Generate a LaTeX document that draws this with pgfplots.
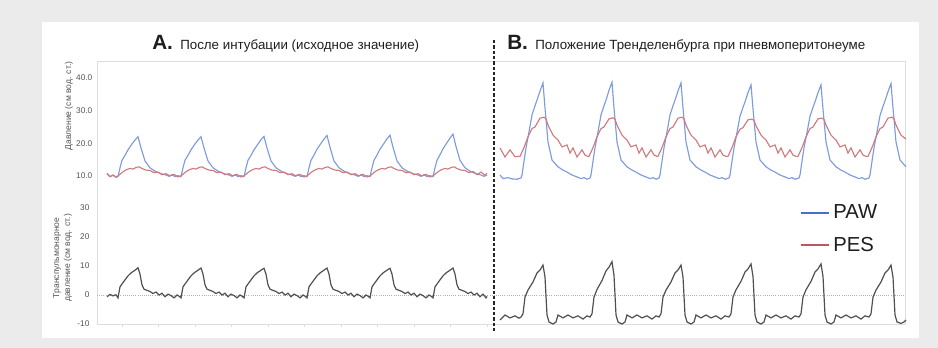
\documentclass[border=0pt]{standalone}
\usepackage{fontspec}
\setmainfont{Liberation Sans}
\usepackage{pgfplots}
\pgfplotsset{compat=1.18}
\definecolor{bgray}{RGB}{235,235,235}
\definecolor{pawc}{RGB}{125,155,222}
\definecolor{pesc}{RGB}{208,122,128}
\definecolor{pawleg}{RGB}{70,110,205}
\definecolor{pesleg}{RGB}{190,85,95}
\definecolor{tpc}{RGB}{80,80,80}
\definecolor{framec}{RGB}{222,222,222}
\definecolor{tickc}{RGB}{85,85,85}
\definecolor{titc}{RGB}{30,30,30}
\begin{document}
\begin{tikzpicture}
\begin{scope}[x=0.75pt,y=0.75pt]
\fill[bgray] (0,0) rectangle (938,348);
\fill[white] (42,10) rectangle (919,326);
\draw[framec, line width=0.6pt] (97,287) rectangle (905,24);
\end{scope}
% ---------------- upper axis ----------------
\begin{axis}[
  at={(72.75pt,118.5pt)}, anchor=south west, scale only axis,
  width=606pt, height=96.75pt,
  xmin=97, xmax=905, ymin=5.71, ymax=45.2,
  axis line style={draw=none}, clip=false,
  xtick=\empty, ytick={10,20,30,40}, major tick length=0pt,
  /pgf/number format/assume math mode=true,
  yticklabel style={font=\fontsize{6.2}{7}\selectfont, text=tickc,
    /pgf/number format/fixed, /pgf/number format/fixed zerofill,
    /pgf/number format/precision=1},
  ylabel={Давление (см вод. ст.)},
  ylabel style={font=\fontsize{6.4}{7.5}\selectfont, text=tickc,
    at={(rel axis cs:-0.0347,0.651)}, anchor=center},
]
\addplot[pawc, line width=0.85pt] coordinates {(107,10.6)(110,9.8)(113,10.2)(116,9.6)
(118,9.8)(120,12.5)(122,14.8)(125,16.3)(128,18.0)(132,19.8)(135,21.0)(138,22.0)(141,18.6)(145,14.6)(150,12.5)(156,11.3)(162,10.6)(166,10.3)(169,9.9)(172,10.4)(175,9.8)(178,10.1)
(181,9.8)(183,12.5)(185,14.8)(188,16.3)(191,18.0)(195,19.8)(198,21.0)(201,22.0)(204,18.6)(208,14.6)(213,12.5)(219,11.3)(225,10.6)(229,10.3)(232,9.9)(235,10.4)(238,9.8)(241,10.1)
(244,9.8)(246,12.5)(248,14.8)(251,16.3)(254,18.0)(258,19.8)(261,21.1)(264,22.1)(267,18.6)(271,14.6)(276,12.5)(282,11.3)(288,10.6)(292,10.3)(295,9.9)(298,10.4)(301,9.8)(304,10.1)
(307,9.8)(309,12.5)(311,14.8)(314,16.4)(317,18.2)(321,20.0)(324,21.3)(327,22.4)(330,18.8)(334,14.6)(339,12.5)(345,11.3)(351,10.6)(355,10.3)(358,9.9)(361,10.4)(364,9.8)(367,10.1)
(370,9.8)(372,12.5)(374,14.8)(377,16.4)(380,18.2)(384,20.0)(387,21.4)(390,22.5)(393,18.8)(397,14.6)(402,12.5)(408,11.3)(414,10.6)(418,10.3)(421,9.9)(424,10.4)(427,9.8)(430,10.1)
(433,9.8)(435,12.5)(437,14.8)(440,16.5)(443,18.3)(447,20.2)(450,21.6)(453,22.8)(456,19.0)(460,14.8)(465,12.5)(471,11.3)(477,10.6)(481,10.3)(484,9.9)(487,10.2)};
\addplot[pesc, line width=0.85pt] coordinates {(107,10.8)(110,9.8)(113,10.3)(116,9.7)
(118,10.0)(121,10.8)(124,11.5)(127,12.0)(130,12.3)(133,12.1)(136,12.6)(139,12.8)(142,12.3)(146,11.8)(150,11.7)(154,11.0)(158,11.2)(162,10.4)(166,10.7)(170,10.0)(174,10.5)(178,9.7)
(181,10.0)(184,10.8)(187,11.5)(190,12.0)(193,12.3)(196,12.1)(199,12.6)(202,12.8)(205,12.3)(209,11.8)(213,11.7)(217,11.0)(221,11.2)(225,10.4)(229,10.7)(233,10.0)(237,10.5)(241,9.7)
(244,10.0)(247,10.8)(250,11.5)(253,12.0)(256,12.3)(259,12.1)(262,12.6)(265,12.8)(268,12.3)(272,11.8)(276,11.7)(280,11.0)(284,11.2)(288,10.4)(292,10.7)(296,10.0)(300,10.5)(304,9.7)
(307,10.0)(310,10.8)(313,11.5)(316,12.0)(319,12.3)(322,12.1)(325,12.6)(328,12.8)(331,12.3)(335,11.8)(339,11.7)(343,11.0)(347,11.2)(351,10.4)(355,10.7)(359,10.0)(363,10.5)(367,9.7)
(370,10.0)(373,10.8)(376,11.5)(379,12.0)(382,12.3)(385,12.1)(388,12.6)(391,12.8)(394,12.3)(398,11.8)(402,11.7)(406,11.0)(410,11.2)(414,10.4)(418,10.7)(422,10.0)(426,10.5)(430,9.7)
(433,10.0)(436,10.8)(439,11.5)(442,12.0)(445,12.3)(448,12.1)(451,12.6)(454,12.8)(457,12.3)(461,11.8)(465,11.7)(469,11.0)(473,11.4)(477,10.4)(481,11.2)(485,10.2)(487,10.8)};
\addplot[pawc, line width=0.85pt] coordinates {(500,10.3)(503,9.2)(508,9.5)(512,9.1)(517,9.0)
(521,9.4)(522,10.3)(524,14.5)(526,18.6)(529,23.5)(532,28.7)(535,31.5)(537,33.2)(540,36.0)(543,38.5)(545,30.8)(548,20.4)(552,14.9)(558,12.8)(563,11.8)(567,11.2)(572,10.3)(577,9.7)(581,9.2)(584,9.5)(587,9.0)
(590,9.4)(591,10.3)(593,14.5)(595,18.6)(598,23.5)(601,28.7)(604,31.5)(606,33.2)(609,36.2)(612,38.7)(614,30.8)(617,20.4)(621,14.9)(627,12.8)(632,11.8)(636,11.2)(641,10.3)(646,9.7)(650,9.2)(653,9.5)(656,9.0)
(659,9.4)(660,10.3)(662,14.5)(664,18.6)(667,23.5)(670,28.7)(673,31.5)(675,33.2)(678,36.0)(681,38.5)(683,30.8)(686,20.4)(690,14.9)(696,12.8)(701,11.8)(705,11.2)(710,10.3)(715,9.7)(719,9.2)(722,9.5)(725,9.0)
(729,9.4)(730,10.3)(732,14.5)(734,18.6)(737,23.3)(740,28.3)(743,31.0)(745,32.7)(748,35.5)(751,37.9)(753,30.5)(756,20.4)(760,14.9)(766,12.8)(771,11.8)(775,11.2)(780,10.3)(785,9.7)(789,9.2)(792,9.5)(795,9.0)
(799,9.4)(800,10.3)(802,14.5)(804,18.6)(807,23.3)(810,28.3)(813,31.0)(815,32.7)(818,35.5)(821,37.9)(823,30.5)(826,20.4)(830,14.9)(836,12.8)(841,11.8)(845,11.2)(850,10.3)(855,9.7)(859,9.2)(862,9.5)(865,9.0)
(869,9.4)(870,10.3)(872,14.5)(874,18.6)(877,23.5)(880,28.5)(883,31.3)(885,33.0)(888,35.8)(891,38.3)(893,30.8)(896,20.4)(900,14.9)(906,12.8)};
\addplot[pesc, line width=0.85pt] coordinates {(500,18.6)(505,15.8)(510,18.0)(515,15.9)
(520,16.0)(523,18.0)(525,19.5)(528,22.0)(532,24.5)(535,25.0)(540,27.7)(544,28.0)(546,27.5)(548,25.6)(553,22.5)(558,21.0)(562,18.9)(567,19.5)(570,17.0)(573,18.6)(577,15.8)(582,18.0)(585,16.4)(588,16.0)
(589,16.0)(592,18.0)(594,19.5)(597,22.0)(601,24.5)(604,25.0)(609,27.5)(613,27.8)(615,27.4)(617,25.6)(622,22.5)(627,21.0)(631,18.9)(636,19.5)(639,17.0)(642,18.6)(646,15.8)(651,18.0)(654,16.4)(657,16.0)
(658,16.0)(661,18.0)(663,19.5)(666,22.0)(670,24.5)(673,25.0)(678,27.7)(682,28.0)(684,27.5)(686,25.6)(691,22.5)(696,21.0)(700,18.9)(705,19.5)(708,17.0)(711,18.6)(715,15.8)(720,18.0)(723,16.4)(726,16.0)
(728,16.0)(731,18.0)(733,19.5)(736,22.0)(740,24.3)(743,24.8)(748,27.2)(752,27.4)(754,27.0)(756,25.4)(761,22.5)(766,21.0)(770,18.9)(775,19.5)(778,17.0)(781,18.6)(785,15.8)(790,18.0)(793,16.4)(796,16.0)
(798,16.0)(801,18.0)(803,19.5)(806,22.0)(810,24.5)(813,25.0)(818,27.5)(822,27.7)(824,27.3)(826,25.6)(831,22.5)(836,21.0)(840,18.9)(845,19.5)(848,17.0)(851,18.6)(855,15.8)(860,18.0)(863,16.4)(866,16.0)
(868,16.0)(871,18.0)(873,19.5)(876,22.0)(880,24.5)(883,25.0)(888,27.7)(892,28.0)(894,27.5)(896,25.6)(901,22.5)(906,21.3)};
\end{axis}
% ---------------- lower axis ----------------
\begin{axis}[
  at={(72.75pt,18pt)}, anchor=south west, scale only axis,
  width=606pt, height=100.5pt,
  xmin=97, xmax=905, ymin=-10, ymax=36.2,
  axis line style={draw=none}, clip=false,
  xtick={122,158.5,195,231.5,268,304.5,341,377.5,414,450.5,487},
  xticklabels={}, tick pos=left, tick align=outside,
  major tick length=2.2pt,
  xtick style={draw=framec, line width=0.6pt},
  ytick={-10,0,10,20,30}, ytick style={draw=none},
  /pgf/number format/assume math mode=true,
  yticklabel style={font=\fontsize{6.2}{7}\selectfont, text=tickc},
  ylabel={Транспульмонарное\\давление (см вод. ст.)},
  ylabel style={font=\fontsize{6.4}{8.2}\selectfont, text=tickc, align=center,
    at={(rel axis cs:-0.0427,0.493)}, anchor=center},
  legend style={draw=none, fill=none, at={(rel axis cs:0.870,0.893)}, anchor=north west,
    font=\fontsize{15.2}{17}\selectfont, inner sep=0pt, row sep=12.6pt, column sep=2.2pt,
    nodes={inner sep=0pt}, text=titc},
  legend image code/.code={\draw[#1] (0pt,0pt) -- (21pt,0pt);},
  legend cell align=left,
]
\addlegendimage{pawleg, line width=1.6pt}
\addlegendentry{PAW}
\addlegendimage{pesleg, line width=1.6pt}
\addlegendentry{PES}
\addplot[gray!60, densely dotted, line width=0.6pt, forget plot] coordinates {(97,0) (905,0)};
\addplot[tpc, line width=0.9pt, forget plot] coordinates {(107,-0.6)(110,0.2)(113,-0.3)(116,0.1)
(118,-1.0)(120,2.8)(122,3.8)(125,5.2)(128,6.6)(131,7.6)(134,8.3)(136,8.8)(138,9.4)(140,7.2)(142,3.5)(144,2.0)(147,1.6)(150,1.2)(153,0.5)(156,1.0)(159,0.0)(162,0.6)(165,-0.6)(168,0.3)(171,-0.2)(174,-1.0)(177,0.0)(179,-0.4)
(181,-1.0)(183,2.8)(185,3.8)(188,5.2)(191,6.6)(194,7.6)(197,8.3)(199,8.8)(201,9.3)(203,7.2)(205,3.5)(207,2.0)(210,1.6)(213,1.2)(216,0.5)(219,1.0)(222,0.0)(225,0.6)(228,-0.6)(231,0.3)(234,-0.2)(237,-1.0)(240,0.0)(242,-0.4)
(244,-1.0)(246,2.8)(248,3.8)(251,5.2)(254,6.6)(257,7.6)(260,8.3)(262,8.8)(264,9.2)(266,7.2)(268,3.5)(270,2.0)(273,1.6)(276,1.2)(279,0.5)(282,1.0)(285,0.0)(288,0.6)(291,-0.6)(294,0.3)(297,-0.2)(300,-1.0)(303,0.0)(305,-0.4)
(307,-1.0)(309,2.8)(311,3.8)(314,5.2)(317,6.6)(320,7.6)(323,8.3)(325,8.8)(327,9.3)(329,7.2)(331,3.5)(333,2.0)(336,1.6)(339,1.2)(342,0.5)(345,1.0)(348,0.0)(351,0.6)(354,-0.6)(357,0.3)(360,-0.2)(363,-1.0)(366,0.0)(368,-0.4)
(370,-1.0)(372,2.8)(374,3.8)(377,5.2)(380,6.6)(383,7.6)(386,8.3)(388,8.8)(390,9.2)(392,7.2)(394,3.5)(396,2.0)(399,1.6)(402,1.2)(405,0.5)(408,1.0)(411,0.0)(414,0.6)(417,-0.6)(420,0.3)(423,-0.2)(426,-1.0)(429,0.0)(431,-0.4)
(433,-1.0)(435,2.8)(437,3.8)(440,5.2)(443,6.6)(446,7.6)(449,8.3)(451,8.8)(453,9.3)(455,7.2)(457,3.5)(459,2.0)(462,1.6)(465,1.2)(468,0.5)(471,1.0)(474,0.0)(477,0.6)(480,-0.6)(483,0.3)(486,-1.0)(487,-0.5)};
\addplot[tpc, line width=0.9pt, forget plot] coordinates {(500,-8.6)(505,-6.9)(510,-7.9)(515,-7.2)(519,-8.0)
(521,-7.6)(523,-6.5)(525,-0.7)(528,1.7)(533,4.5)(537,7.6)(540,8.6)(543,10.3)(545,6.2)(547,-6.9)(549,-9.3)(553,-10.0)(556,-9.3)(558,-6.9)(563,-7.9)(568,-6.9)(573,-7.9)(578,-7.2)(583,-8.3)(587,-7.2)
(590,-7.6)(592,-6.5)(594,-0.7)(597,1.9)(602,5.0)(606,8.3)(609,9.6)(612,11.5)(614,6.8)(616,-6.9)(618,-9.3)(622,-10.0)(625,-9.3)(627,-6.9)(632,-7.9)(637,-6.9)(642,-7.9)(647,-7.2)(652,-8.3)(656,-7.2)
(659,-7.6)(661,-6.5)(663,-0.7)(666,1.7)(671,4.5)(675,7.6)(678,8.6)(681,10.3)(683,6.2)(685,-6.9)(687,-9.3)(691,-10.0)(694,-9.3)(696,-6.9)(701,-7.9)(706,-6.9)(711,-7.9)(716,-7.2)(721,-8.3)(725,-7.2)
(729,-7.6)(731,-6.5)(733,-0.7)(736,1.8)(741,4.7)(745,7.9)(748,9.0)(751,10.7)(753,6.4)(755,-6.9)(757,-9.3)(761,-10.0)(764,-9.3)(766,-6.9)(771,-7.9)(776,-6.9)(781,-7.9)(786,-7.2)(791,-8.3)(795,-7.2)
(799,-7.6)(801,-6.5)(803,-0.7)(806,1.8)(811,4.7)(815,7.9)(818,9.0)(821,10.7)(823,6.4)(825,-6.9)(827,-9.3)(831,-10.0)(834,-9.3)(836,-6.9)(841,-7.9)(846,-6.9)(851,-7.9)(856,-7.2)(861,-8.3)(865,-7.2)
(869,-7.6)(871,-6.5)(873,-0.7)(876,1.7)(881,4.5)(885,7.6)(888,8.6)(891,10.3)(893,6.2)(895,-6.9)(897,-9.3)(901,-9.8)(904,-9.3)(906,-8.6)};
\end{axis}
% ---------------- titles and divider ----------------
\begin{scope}[x=0.75pt,y=0.75pt]
\draw[black!85, line width=1.3pt, dash pattern=on 2.4pt off 1.6pt] (494,308) -- (494,15);
\node[anchor=base west, inner sep=0pt, text=titc, font=\fontsize{15.5}{17}\selectfont\bfseries] at (152,298) {A.};
\node[anchor=base west, inner sep=0pt, text=titc, font=\fontsize{10}{12}\selectfont] at (180,298) {После интубации (исходное значение)};
\node[anchor=base west, inner sep=0pt, text=titc, font=\fontsize{15.5}{17}\selectfont\bfseries] at (507,298) {B.};
\node[anchor=base west, inner sep=0pt, text=titc, font=\fontsize{10}{12}\selectfont] at (535,298) {Положение Тренделенбурга при пневмоперитонеуме};
\end{scope}
\end{tikzpicture}
\end{document}
